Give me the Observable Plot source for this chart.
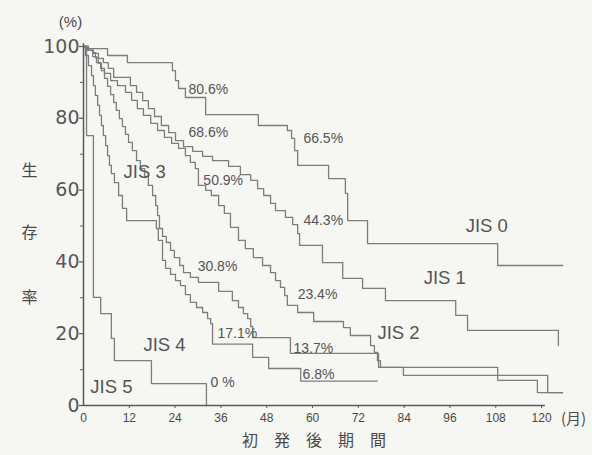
<!DOCTYPE html>
<html><head><meta charset="utf-8">
<script src="https://cdn.jsdelivr.net/npm/d3@7"></script>
<script src="https://cdn.jsdelivr.net/npm/@observablehq/plot@0.6"></script>
<style>
html,body{margin:0;padding:0;background:#f6f6f3;}
#chart svg{display:block;background:#f6f6f3;}
</style></head><body><div id="chart"></div>
<script>
// Kaplan–Meier survival steps: [month, survival %]
const groups = ["JIS 0","JIS 1","JIS 2","JIS 3","JIS 4","JIS 5"];
const jis0 = [[0,100],[1.0,99.4],[6.3,97.5],[11.5,95.5],[23.3,93.3],[24.1,90.5],[24.9,88.3],[26.7,85.8],[32.0,81.0],[45.8,78.0],[53.4,76.6],[54.5,74.4],[55.3,71.0],[56.1,66.9],[64.2,63.2],[68.6,59.1],[69.2,51.5],[74.4,45.1],[108.5,39.0],[125.5,39.0]];
const jis1 = [[0,100],[1.3,98.9],[2.6,98.1],[3.9,96.7],[5.2,95.5],[6.5,93.9],[7.9,91.4],[12.3,89.1],[13.9,87.2],[15.5,84.9],[17.0,82.7],[18.6,80.5],[20.4,78.0],[22.3,76.0],[24.1,73.8],[26.2,72.1],[28.6,70.8],[31.2,69.4],[33.8,68.2],[38.0,66.6],[41.1,64.3],[43.8,62.7],[45.6,60.4],[47.2,58.5],[49.0,56.3],[50.3,54.3],[52.9,52.4],[54.8,50.4],[56.1,47.9],[56.6,44.6],[62.6,39.8],[67.9,35.4],[73.1,32.6],[79.1,29.2],[97.5,25.1],[100.6,20.9],[124.4,16.7]];
const jis2 = [[0,100],[1.0,98.9],[2.4,97.2],[3.4,95.5],[4.5,93.9],[5.5,92.5],[7.1,90.5],[8.9,89.1],[11.0,87.2],[12.6,85.0],[14.1,82.7],[15.7,80.8],[17.6,78.6],[19.4,76.6],[21.2,74.7],[23.1,73.0],[24.9,71.6],[26.7,69.6],[28.0,67.7],[29.3,66.0],[30.1,61.3],[32.0,59.9],[33.5,58.5],[35.4,55.7],[36.9,53.5],[38.5,49.6],[40.6,46.0],[42.4,43.7],[44.5,41.2],[46.9,39.0],[49.0,37.0],[50.3,34.8],[51.6,32.9],[52.7,30.6],[53.4,27.9],[56.1,25.9],[60.3,23.4],[68.1,21.7],[69.9,19.5],[75.2,16.7],[76.2,14.8],[77.0,12.5],[77.8,10.6],[108.5,7.0],[118.9,3.6],[125.5,3.6]];
const jis3 = [[0,100],[1.3,99.4],[2.4,98.3],[3.1,96.9],[3.9,95.3],[4.7,93.3],[5.5,91.1],[6.3,88.9],[7.1,86.6],[7.9,84.4],[8.6,82.2],[9.4,79.9],[10.2,77.7],[11.0,75.5],[11.8,73.3],[12.8,71.0],[13.9,68.2],[14.9,66.0],[16.0,63.8],[17.0,61.3],[18.1,58.5],[18.9,55.7],[19.4,52.9],[19.9,49.3],[20.7,47.1],[21.7,45.4],[22.8,43.2],[23.8,41.2],[25.2,39.0],[26.2,37.0],[28.0,35.7],[30.1,34.3],[35.4,31.8],[39.0,29.2],[40.6,27.3],[41.9,25.6],[43.0,24.2],[43.8,22.0],[44.3,18.9],[54.2,14.5],[77.3,10.6],[83.8,8.4],[121.6,3.6],[125.5,3.6]];
const jis4 = [[0,100],[0.5,97.5],[1.3,94.7],[2.1,91.9],[2.6,89.1],[3.1,86.4],[3.7,83.6],[4.2,80.8],[4.7,78.0],[5.2,75.2],[5.8,72.4],[6.3,69.6],[6.8,66.9],[7.3,64.6],[8.1,62.1],[9.2,58.5],[10.2,54.9],[11.3,51.5],[19.1,49.3],[19.6,46.0],[20.7,40.4],[21.5,38.2],[22.8,36.5],[24.1,34.8],[25.4,33.4],[26.7,30.9],[28.0,28.7],[29.6,27.3],[31.2,25.9],[32.5,24.2],[33.3,22.8],[33.8,17.1],[44.3,13.4],[48.5,10.3],[56.9,6.8],[77.0,6.8]];
const jis5 = [[0,100],[0.8,75.2],[2.6,30.1],[4.5,25.6],[7.3,18.7],[8.1,12.5],[17.8,6.1],[32.2,0]];
const series = [jis0, jis1, jis2, jis3, jis4, jis5];

// 3-year and 5-year survival rates printed on the chart
const rate3y = [80.6, 68.6, 50.9, 30.8, 17.1, 0];
const rate5y = [66.5, 44.3, 23.4, 13.7, 6.8];

// tick labels
const xTicks = [0,12,24,36,48,60,72,84,96,108,120];
const yMajor = [0,20,40,60,80,100];
const yMinor = [10,30,50,70,90];

// annotation anchors (month, %)
const rate3yPos = [[27.5,88.0],[27.5,76.0],[31.4,62.7],[29.9,38.7],[35.1,20.1],[33.3,6.4]];
const rate5yPos = [[57.6,74.4],[57.6,51.5],[56.1,30.9],[55.0,15.9],[57.4,8.6]];
const groupPos = [[100.1,50.1],[89.1,35.4],[77.0,20.1],[10.5,64.9],[15.7,16.7],[1.8,5.0]];

const lineData = series.flatMap((pts, i) => pts.map(([t, s]) => ({group: groups[i], t, s})));
const fmt = v => v === 0 ? "0 %" : v.toFixed(1) + "%";
const rateLabels = [
  ...rate3y.map((v, i) => ({text: fmt(v), t: rate3yPos[i][0], s: rate3yPos[i][1]})),
  ...rate5y.map((v, i) => ({text: fmt(v), t: rate5yPos[i][0], s: rate5yPos[i][1]}))
];
const groupLabels = groups.map((g, i) => ({text: g, t: groupPos[i][0], s: groupPos[i][1]}));

const sans = "'Liberation Sans', Arial, sans-serif";
const cjk = "'Noto Sans CJK JP', sans-serif";
const lineColor = "#7d7d7d";
const axisColor = "#5a5a5a";
const textColor = "#555";

const chart = Plot.plot({
  width: 592,
  height: 455,
  marginLeft: 83,
  marginRight: 28,
  marginTop: 46,
  marginBottom: 50,
  style: {background: "#f6f6f3", fontFamily: sans, color: textColor},
  x: {domain: [0, 126], axis: null},
  y: {domain: [0, 100], axis: null},
  marks: [
    // survival curves
    Plot.line(lineData, {x: "t", y: "s", z: "group", curve: "step-after", stroke: lineColor, strokeWidth: 1.3}),
    // axes lines
    Plot.ruleX([0], {y1: () => 0, y2: () => 100.8, stroke: axisColor, strokeWidth: 1.5}),
    Plot.ruleY([0], {x1: () => 0, x2: () => 121, stroke: axisColor, strokeWidth: 1.5}),
    // ticks
    Plot.ruleY(yMajor, {x1: () => 0, x2: () => 0, insetLeft: -4, stroke: axisColor, strokeWidth: 1.2}),
    Plot.ruleY(yMinor, {x1: () => 0, x2: () => 0, insetLeft: -3, stroke: axisColor, strokeWidth: 1}),
    Plot.ruleX(xTicks.slice(1), {y1: () => 0, y2: () => 0, insetBottom: -3, stroke: axisColor, strokeWidth: 1}),
    // tick labels
    Plot.text(yMajor, {x: () => 0, y: d => d, text: d => String(d), textAnchor: "end", dx: -4, fontSize: 19, fontFamily: "'DejaVu Sans', sans-serif", fill: "#575757"}),
    Plot.text(xTicks, {x: d => d, y: () => 0, text: d => String(d), dy: 13, fontSize: 12, fill: "#4a4a4a"}),
    // axis titles
    Plot.text(["(%)"], {x: () => 0, y: () => 100, dx: -13, dy: -24, fontSize: 15, fill: "#4a4a4a"}),
    Plot.text(["(月)"], {x: () => 120, y: () => 0, dx: 32, dy: 14, fontSize: 15, fontFamily: cjk, fill: "#4a4a4a"}),
    Plot.text(["生"], {frameAnchor: "left", dx: -62, dy: -55.5, fontSize: 16, fontFamily: cjk, fill: "#4a4a4a"}),
    Plot.text(["存"], {frameAnchor: "left", dx: -62, dy: 6.5, fontSize: 16, fontFamily: cjk, fill: "#4a4a4a"}),
    Plot.text(["率"], {frameAnchor: "left", dx: -62, dy: 71.5, fontSize: 16, fontFamily: cjk, fill: "#4a4a4a"}),
    Plot.text(["初　発　後　期　間"], {frameAnchor: "bottom", dx: -10, dy: 40, fontSize: 16, fontFamily: cjk, fill: "#4a4a4a"}),
    // annotations
    Plot.text(rateLabels, {x: "t", y: "s", text: "text", textAnchor: "start", fontSize: 14, fill: textColor}),
    Plot.text(groupLabels, {x: "t", y: "s", text: "text", textAnchor: "start", fontSize: 18.5, fill: textColor})
  ]
});
document.getElementById("chart").append(chart);
</script></body></html>
